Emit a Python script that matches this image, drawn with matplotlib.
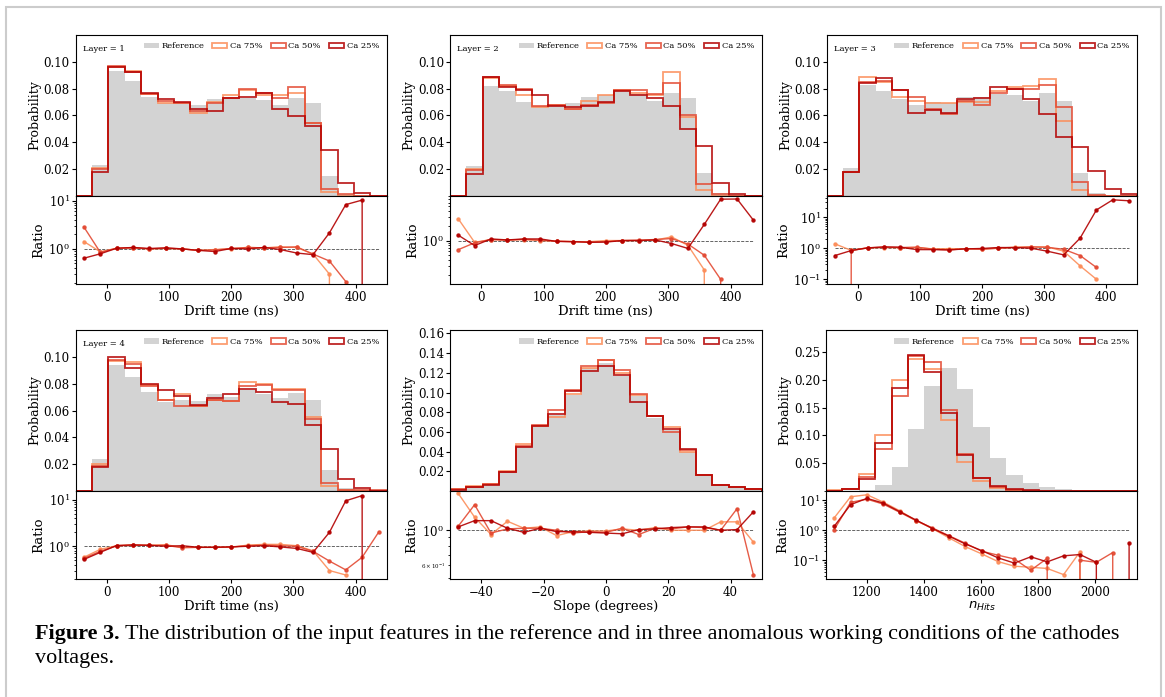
import numpy as np
import matplotlib
matplotlib.use('Agg')
import matplotlib.pyplot as plt
from matplotlib.patches import Rectangle

nan = np.nan

# ---------------- data ----------------
series_labels = ['Reference', 'Ca 75%', 'Ca 50%', 'Ca 25%']

drift_edges = np.linspace(-50, 450, 20)
slope_edges = np.linspace(-50, 50, 20)
nhits_edges = np.linspace(1057.5, 2148.5, 20)

# Layer 1
ref_l1 = [0, 0.023, 0.093, 0.086, 0.074, 0.069, 0.069, 0.068, 0.072, 0.072, 0.073, 0.0715, 0.068, 0.073, 0.069, 0.015, 0.001, 0, 0]
ca75_l1 = [0, 0.021, 0.096, 0.093, 0.076, 0.069, 0.069, 0.062, 0.070, 0.075, 0.079, 0.075, 0.075, 0.077, 0.054, 0.003, 0, 0, 0]
ca50_l1 = [0, 0.020, 0.097, 0.092, 0.076, 0.071, 0.069, 0.063, 0.069, 0.073, 0.080, 0.077, 0.073, 0.081, 0.054, 0.005, 0.001, 0, 0]
ca25_l1 = [0, 0.018, 0.096, 0.092, 0.077, 0.072, 0.070, 0.065, 0.063, 0.073, 0.074, 0.077, 0.065, 0.0595, 0.052, 0.034, 0.0093, 0.002, 0]
r75_l1 = [1.42, 0.87, 1.03, 1.05, 1.0, 1.02, 1.0, 0.93, 0.97, 1.0, 1.07, 1.05, 1.1, 1.07, 0.78, 0.3, 0, nan, nan]
r50_l1 = [2.85, 0.85, 1.03, 1.05, 1.0, 1.03, 1.0, 0.93, 0.95, 1.02, 1.07, 1.05, 1.07, 1.1, 0.78, 0.56, 0.21, 0, nan]
r25_l1 = [0.64, 0.79, 1.03, 1.07, 1.02, 1.05, 1.0, 0.93, 0.88, 1.02, 1.0, 1.07, 0.97, 0.82, 0.76, 2.15, 8.3, 10.3, 0]

# Layer 2
ref_l2 = [0, 0.022, 0.082, 0.078, 0.070, 0.067, 0.067, 0.069, 0.074, 0.075, 0.078, 0.076, 0.071, 0.077, 0.073, 0.017, 0.002, 0, 0]
ca75_l2 = [0, 0.020, 0.088, 0.082, 0.075, 0.066, 0.068, 0.065, 0.071, 0.075, 0.079, 0.077, 0.075, 0.092, 0.059, 0.004, 0, 0, 0]
ca50_l2 = [0, 0.019, 0.089, 0.083, 0.080, 0.067, 0.068, 0.065, 0.068, 0.069, 0.079, 0.079, 0.076, 0.084, 0.060, 0.009, 0.001, 0, 0]
ca25_l2 = [0, 0.016, 0.089, 0.081, 0.079, 0.075, 0.067, 0.066, 0.067, 0.070, 0.078, 0.075, 0.073, 0.067, 0.050, 0.037, 0.0095, 0.001, 0]
r75_l2 = [2.8, 0.92, 1.05, 1.02, 1.05, 1.0, 0.97, 0.95, 0.95, 1.0, 1.0, 1.0, 1.02, 1.19, 0.8, 0.25, 0, nan, nan]
r50_l2 = [0.65, 0.9, 1.05, 1.02, 1.06, 1.02, 0.97, 0.95, 0.93, 0.95, 1.0, 1.02, 1.05, 1.1, 0.85, 0.5, 0.16, 0, nan]
r25_l2 = [1.29, 0.79, 1.08, 1.03, 1.08, 1.08, 0.96, 0.95, 0.92, 0.93, 1.0, 1.0, 1.03, 0.87, 0.69, 2.14, 7.05, 7.1, 2.6]

# Layer 3
ref_l3 = [0, 0.021, 0.083, 0.078, 0.072, 0.068, 0.070, 0.069, 0.074, 0.074, 0.076, 0.075, 0.071, 0.077, 0.071, 0.017, 0.002, 0, 0]
ca75_l3 = [0, 0.018, 0.089, 0.085, 0.074, 0.071, 0.069, 0.069, 0.070, 0.070, 0.078, 0.081, 0.082, 0.087, 0.056, 0.004, 0, 0, 0]
ca50_l3 = [0, 0.018, 0.085, 0.086, 0.079, 0.074, 0.065, 0.061, 0.071, 0.068, 0.077, 0.080, 0.080, 0.083, 0.066, 0.010, 0.0005, 0, 0]
ca25_l3 = [0, 0.018, 0.084, 0.088, 0.079, 0.062, 0.064, 0.062, 0.072, 0.073, 0.081, 0.080, 0.072, 0.061, 0.044, 0.036, 0.0185, 0.0051, 0.001]
r75_l3 = [1.38, 0.85, 1.03, 1.05, 1.03, 1.05, 0.95, 0.97, 0.95, 0.95, 1.0, 1.08, 1.1, 1.1, 0.8, 0.27, 0.1, nan, nan]
r50_l3 = [0, 0.85, 1.03, 1.08, 1.05, 1.08, 0.93, 0.88, 0.97, 0.92, 1.0, 1.05, 1.1, 1.07, 0.92, 0.58, 0.24, nan, nan]
r25_l3 = [0.58, 0.84, 1.02, 1.1, 1.08, 0.9, 0.9, 0.88, 0.95, 0.98, 1.05, 1.05, 1.0, 0.8, 0.61, 2.1, 17, 36, 33.5]

# Layer 4
ref_l4 = [0, 0.024, 0.094, 0.085, 0.074, 0.066, 0.068, 0.067, 0.072, 0.070, 0.075, 0.072, 0.069, 0.073, 0.068, 0.016, 0.002, 0, 0]
ca75_l4 = [0, 0.020, 0.097, 0.096, 0.079, 0.068, 0.072, 0.063, 0.068, 0.067, 0.081, 0.080, 0.076, 0.076, 0.055, 0.004, 0.0005, 0, 0]
ca50_l4 = [0, 0.019, 0.098, 0.095, 0.078, 0.068, 0.063, 0.063, 0.068, 0.067, 0.078, 0.079, 0.075, 0.075, 0.054, 0.006, 0.0008, 0.001, 0.0005]
ca25_l4 = [0, 0.018, 0.100, 0.092, 0.080, 0.075, 0.071, 0.064, 0.069, 0.072, 0.076, 0.074, 0.066, 0.065, 0.049, 0.031, 0.009, 0.002, 0]
r75_l4 = [0.58, 0.86, 1.03, 1.08, 1.05, 1.08, 0.95, 0.95, 0.95, 0.95, 1.06, 1.1, 1.1, 1.03, 0.8, 0.3, 0.24, nan, nan]
r50_l4 = [0.55, 0.78, 1.02, 1.05, 1.05, 1.05, 0.93, 0.95, 0.95, 0.97, 1.03, 1.06, 1.03, 1.0, 0.78, 0.48, 0.31, 0.58, 2.0]
r25_l4 = [0.52, 0.74, 1.04, 1.07, 1.05, 1.0, 1.03, 0.95, 0.95, 0.97, 1.0, 1.03, 0.97, 0.9, 0.74, 2.0, 9.6, 12.4, 0]

# Slope
ref_sl = [0.001, 0.004, 0.006, 0.018, 0.045, 0.065, 0.077, 0.097, 0.125, 0.130, 0.117, 0.096, 0.074, 0.062, 0.040, 0.016, 0.006, 0.003, 0.001]
ca75_sl = [0.002, 0.005, 0.007, 0.020, 0.048, 0.066, 0.075, 0.098, 0.125, 0.133, 0.120, 0.097, 0.076, 0.065, 0.040, 0.016, 0.006, 0.004, 0.002]
ca50_sl = [0.002, 0.004, 0.007, 0.019, 0.046, 0.067, 0.082, 0.103, 0.127, 0.133, 0.123, 0.099, 0.076, 0.060, 0.042, 0.016, 0.006, 0.004, 0.002]
ca25_sl = [0.001, 0.004, 0.006, 0.019, 0.045, 0.066, 0.078, 0.102, 0.122, 0.127, 0.118, 0.090, 0.076, 0.063, 0.043, 0.016, 0.006, 0.004, 0.002]
r75_sl = [1.71, 1.21, 0.94, 1.14, 1.03, 1.05, 0.925, 0.98, 0.99, 0.99, 1.02, 1.0, 1.04, 1.0, 1.0, 1.0, 1.13, 1.13, 0.84]
r50_sl = [1.06, 1.45, 0.96, 1.02, 1.03, 1.03, 1.0, 0.96, 0.98, 0.97, 1.03, 0.94, 1.03, 1.02, 1.05, 1.04, 1.0, 1.37, 0.52]
r25_sl = [1.05, 1.15, 1.15, 1.03, 0.97, 1.03, 0.98, 0.98, 0.97, 0.96, 0.95, 1.01, 1.02, 1.04, 1.05, 1.05, 1.0, 1.01, 1.31]

# nHits
ref_nh = [0, 0.0005, 0.002, 0.011, 0.044, 0.112, 0.190, 0.222, 0.184, 0.116, 0.060, 0.028, 0.014, 0.007, 0.003, 0.0005, 0, 0, 0]
ca75_nh = [0.001, 0.004, 0.030, 0.100, 0.200, 0.237, 0.219, 0.128, 0.052, 0.018, 0.005, 0.0015, 0.0007, 0.0003, 0.0001, 0.0001, 0, 0, 0]
ca50_nh = [0.0005, 0.003, 0.025, 0.075, 0.172, 0.243, 0.232, 0.146, 0.067, 0.023, 0.007, 0.002, 0.0007, 0.0007, 0, 0.0001, 0.0001, 0.0001, 0]
ca25_nh = [0.0003, 0.003, 0.022, 0.086, 0.185, 0.245, 0.214, 0.141, 0.064, 0.024, 0.009, 0.003, 0.0015, 0.0006, 0.0004, 0.0001, 0.0001, 0, 0.0001]
r75_nh = [2.6, 13.2, 15.4, 8.7, 4.5, 2.1, 1.14, 0.56, 0.285, 0.163, 0.09, 0.063, 0.058, 0.053, 0.033, 0.19, 0, nan, nan]
r50_nh = [1.05, 8.6, 11.0, 7.5, 4.0, 2.1, 1.2, 0.66, 0.37, 0.2, 0.147, 0.11, 0.046, 0.116, 0, 0.1, 0.085, 0.18, 0]
r25_nh = [1.36, 7.2, 11.7, 8.1, 4.2, 2.2, 1.14, 0.64, 0.35, 0.21, 0.12, 0.08, 0.13, 0.088, 0.14, 0.155, 0.085, 0, 0.37]

caption_bold = 'Figure 3.'
caption_rest = ('The distribution of the input features in the reference and in three anomalous '
                'working conditions of the cathodes')
caption_line2 = 'voltages.'

# ---------------- style ----------------
plt.rcParams['font.family'] = ['DejaVu Serif']
plt.rcParams['xtick.labelsize'] = 8.5
plt.rcParams['ytick.labelsize'] = 8.5
plt.rcParams['xtick.major.size'] = 3
plt.rcParams['ytick.major.size'] = 3
plt.rcParams['xtick.minor.size'] = 1.8
plt.rcParams['ytick.minor.size'] = 1.8
plt.rcParams['xtick.major.pad'] = 1.5
plt.rcParams['ytick.major.pad'] = 1.2
plt.rcParams['ytick.minor.pad'] = 1.2

W, H = 1165, 697
fig = plt.figure(figsize=(W / 100, H / 100), dpi=100)

col_ref = 'lightgrey'
cols = ['#fc8d59', '#e34a33', '#b30000']

panels = [
    dict(edges=drift_edges, h=[ref_l1, ca75_l1, ca50_l1, ca25_l1], r=[r75_l1, r50_l1, r25_l1],
         xlabel='Drift time (ns)', layer='Layer = 1', ymax=0.12, yt=[0.02, 0.04, 0.06, 0.08, 0.10],
         rlim=(0.184, 12.7), box=(75.7, 35, 386.7, 195.7, 284.3)),
    dict(edges=drift_edges, h=[ref_l2, ca75_l2, ca50_l2, ca25_l2], r=[r75_l2, r50_l2, r25_l2],
         xlabel='Drift time (ns)', layer='Layer = 2', ymax=0.12, yt=[0.02, 0.04, 0.06, 0.08, 0.10],
         rlim=(0.127, 8.3), box=(450, 35, 761.7, 195.7, 284.3)),
    dict(edges=drift_edges, h=[ref_l3, ca75_l3, ca50_l3, ca25_l3], r=[r75_l3, r50_l3, r25_l3],
         xlabel='Drift time (ns)', layer='Layer = 3', ymax=0.12, yt=[0.02, 0.04, 0.06, 0.08, 0.10],
         rlim=(0.069, 48.8), box=(826.7, 35, 1137.3, 195.7, 284.3)),
    dict(edges=drift_edges, h=[ref_l4, ca75_l4, ca50_l4, ca25_l4], r=[r75_l4, r50_l4, r25_l4],
         xlabel='Drift time (ns)', layer='Layer = 4', ymax=0.12, yt=[0.02, 0.04, 0.06, 0.08, 0.10],
         rlim=(0.194, 15.6), box=(75.7, 330, 386.7, 491, 579.3)),
    dict(edges=slope_edges, h=[ref_sl, ca75_sl, ca50_sl, ca25_sl], r=[r75_sl, r50_sl, r25_sl],
         xlabel='Slope (degrees)', layer=None, ymax=0.1635,
         yt=[0.02, 0.04, 0.06, 0.08, 0.10, 0.12, 0.14, 0.16],
         rlim=(0.49, 1.77), box=(450, 330, 761.7, 491, 579.3)),
    dict(edges=nhits_edges, h=[ref_nh, ca75_nh, ca50_nh, ca25_nh], r=[r75_nh, r50_nh, r25_nh],
         xlabel='$n_{Hits}$', layer=None, ymax=0.29, yt=[0.05, 0.10, 0.15, 0.20, 0.25],
         rlim=(0.023, 20.6), box=(826, 330, 1137.3, 491, 579.3)),
]

for p in panels:
    x0, ytop, x1, ymid, ybot = p['box']
    ax = fig.add_axes([x0 / W, 1 - ymid / H, (x1 - x0) / W, (ymid - ytop) / H])
    axr = fig.add_axes([x0 / W, 1 - ybot / H, (x1 - x0) / W, (ybot - ymid) / H], sharex=ax)
    edges = p['edges']
    centers = 0.5 * (edges[1:] + edges[:-1])

    ax.hist(centers, bins=edges, weights=p['h'][0], histtype='stepfilled',
            color=col_ref, label=series_labels[0])
    for vals, c, lab in zip(p['h'][1:], cols, series_labels[1:]):
        ax.hist(centers, bins=edges, weights=vals, histtype='step', color=c,
                lw=1.3, alpha=0.85, label=lab)
    ax.set_xlim(edges[0], edges[-1])
    ax.set_ylim(0, p['ymax'])
    ax.set_yticks(p['yt'])
    ax.set_ylabel('Probability', fontsize=9, labelpad=2)
    ax.tick_params(axis='x', bottom=False, labelbottom=False)
    ax.legend(loc='upper right', ncol=4, fontsize=6, frameon=False,
              handlelength=1.8, handletextpad=0.3, columnspacing=1.0,
              borderaxespad=0.5)
    if p['layer']:
        ax.text(0.022, 0.915, p['layer'], transform=ax.transAxes, fontsize=6,
                va='center', ha='left')

    axr.set_yscale('log')
    axr.plot(centers, np.ones_like(centers), ls='--', color='k', lw=0.6, alpha=0.7)
    for rv, c in zip(p['r'], cols):
        axr.plot(centers, rv, marker='o', ms=2.2, lw=1.0, color=c, alpha=0.9)
    axr.set_ylim(*p['rlim'])
    axr.set_xlim(edges[0], edges[-1])
    axr.set_ylabel('Ratio', fontsize=9.5, labelpad=2)
    axr.set_xlabel(p['xlabel'], fontsize=9.5, labelpad=1)
    axr.tick_params(axis='y', which='minor', labelsize=4)

# caption
fs0 = 14
t1 = fig.text(35 / W, 1 - 634 / H, caption_bold, fontweight='bold',
              family='Liberation Serif', fontsize=fs0, va='center', ha='left')
fig.canvas.draw()
rend = fig.canvas.get_renderer()
b1 = t1.get_window_extent(rend)
gap = 5
t2 = fig.text((b1.x1 + gap) / W, 1 - 634 / H, caption_rest, family='Liberation Serif',
              fontsize=fs0, va='center', ha='left')
b2 = t2.get_window_extent(rend)
scale = (1127 - 35) / (b2.x1 - b1.x0)
fs = fs0 * scale
t1.set_fontsize(fs)
b1 = t1.get_window_extent(rend)
t2.set_fontsize(fs)
t2.set_x((b1.x1 + gap * scale) / W)
fig.text(35 / W, 1 - 658 / H, caption_line2, family='Liberation Serif', fontsize=fs,
         va='center', ha='left')

# page frame
fig.patches.append(Rectangle((6 / W, -0.02), (1161 - 6) / W, 1.02 - 7 / H,
                             transform=fig.transFigure, fill=False,
                             ec='#cccccc', lw=1.5))

fig.savefig('out.png', dpi=100)
